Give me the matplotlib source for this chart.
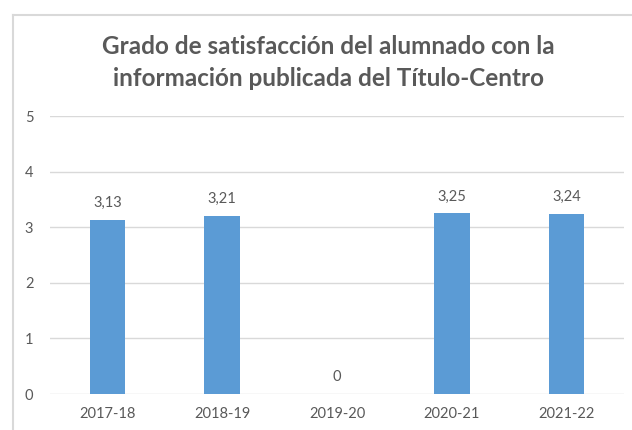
import matplotlib.pyplot as plt
from matplotlib.lines import Line2D

cursos = ['2017-18', '2018-19', '2019-20', '2020-21', '2021-22']
valores = [3.13, 3.21, 0, 3.25, 3.24]

plt.rcParams['font.family'] = ['Lato', 'DejaVu Sans']
gris = '#595959'

fig = plt.figure(figsize=(6.32, 4.30), dpi=100)
ax = fig.add_axes([50 / 632, 1 - 394 / 430, 574 / 632, 278 / 430])

x = range(len(cursos))
ax.bar(x, valores, width=0.31, color='#5b9bd5', zorder=3)
for i, v in zip(x, valores):
    ax.annotate(f'{v:.2f}'.replace('.', ',') if v else '0', (i, v),
                xytext=(0, 7), textcoords='offset points',
                ha='center', va='bottom', fontsize=10.5, color=gris)

ax.set_xlim(-0.5, len(cursos) - 0.5)
ax.set_ylim(0, 5)
ax.set_yticks(range(6))
ax.set_xticks(list(x))
ax.set_xticklabels(cursos)
ax.tick_params(length=0, labelsize=10.5, colors=gris)
ax.tick_params(axis='y', pad=12)
ax.tick_params(axis='x', pad=9)
ax.grid(axis='y', color='#d9d9d9', linewidth=1, zorder=0)
for s in ax.spines.values():
    s.set_visible(False)

fig.text(0.52, 1 - 47 / 430, 'Grado de satisfacción del alumnado con la',
         ha='center', va='center', fontsize=17.5, fontweight='bold', color=gris)
fig.text(0.52, 1 - 78 / 430, 'información publicada del Título-Centro',
         ha='center', va='center', fontsize=17.5, fontweight='bold', color=gris)

# marco del gráfico
fig.add_artist(Line2D([13 / 632, 13 / 632], [0, 1 - 15 / 430], color='#d9d9d9', lw=1.5))
fig.add_artist(Line2D([13 / 632, 1], [1 - 15 / 430, 1 - 15 / 430], color='#d9d9d9', lw=1.5))

fig.savefig('out.png', dpi=100)
